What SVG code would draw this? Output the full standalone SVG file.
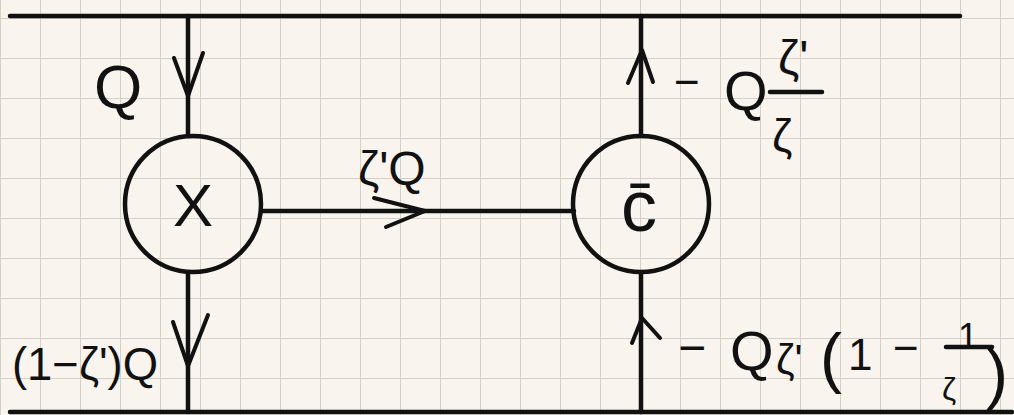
<svg xmlns="http://www.w3.org/2000/svg" width="1014" height="415" viewBox="0 0 1014 415">
<style>
.ln{stroke:#111;stroke-width:4.5;fill:none;stroke-linecap:round;stroke-linejoin:round}
.ah{stroke:#111;stroke-width:4;fill:none;stroke-linecap:round;stroke-linejoin:round}
.nd{stroke:#111;stroke-width:4.5;fill:none}
.t{font-family:"Liberation Sans","DejaVu Sans",sans-serif;fill:#111}
</style>
<defs>
<pattern id="grid" patternUnits="userSpaceOnUse" x="0" y="18" width="40" height="40">
<path d="M0 0H40M0 0V40" stroke="#d6cfc6" stroke-width="2" fill="none"/>
</pattern>
</defs>
<rect width="1014" height="415" fill="#f9f4ee"/>
<rect width="1014" height="415" fill="url(#grid)"/>
<g id="connectors">
<line class="ln" x1="10" y1="16" x2="960" y2="16"/>
<line class="ln" x1="10" y1="412" x2="1012" y2="412"/>
<line class="ln" x1="188" y1="16" x2="188" y2="136"/>
<line class="ln" x1="188" y1="272" x2="188" y2="412"/>
<line class="ln" x1="641" y1="16" x2="641" y2="136"/>
<line class="ln" x1="641" y1="272" x2="641" y2="412"/>
<line class="ln" x1="262" y1="211" x2="574" y2="211"/>
<polyline class="ah" points="174,58 188,96 203,53"/>
<polyline class="ah" points="173,322 188,366 208,315"/>
<polyline class="ah" points="628,83 642,50 653,82"/>
<polyline class="ah" points="632,343 642,318 660,338"/>
<polyline class="ah" points="374,198 425,211 386,227"/>
</g>
<g id="node-x">
<circle class="nd" cx="193" cy="204" r="68"/>
<text class="t" x="193" y="226" font-size="60" text-anchor="middle">X</text>
</g>
<g id="node-c">
<circle class="nd" cx="641" cy="204" r="68"/>
<text class="t" x="639" y="231" font-size="72" text-anchor="middle">c̄</text>
</g>
<g id="labels">
<text class="t" x="94" y="108" font-size="62">Q</text>
<text class="t" x="358" y="185" font-size="48">ζ'Q</text>
<text class="t" font-size="56"><tspan x="674" y="97" font-size="44">−</tspan><tspan x="724" y="110">Q</tspan><tspan x="778" y="74" font-size="48">ζ'</tspan><tspan x="772" y="152" font-size="46">ζ</tspan></text>
<line class="ln" x1="770" y1="92" x2="822" y2="92"/>
<text class="t" x="12" y="380" font-size="46" textLength="146" lengthAdjust="spacingAndGlyphs">(1−ζ')Q</text>
<text class="t" font-size="56"><tspan x="678" y="364" font-size="48">−</tspan><tspan x="730" y="370">Q</tspan><tspan x="776" y="374" font-size="42">ζ'</tspan><tspan x="820" y="380" font-size="66">(</tspan><tspan x="848" y="370" font-size="44">1</tspan><tspan x="893" y="363" font-size="44">−</tspan><tspan x="958" y="349" font-size="36">1</tspan><tspan x="942" y="400" font-size="32">ζ</tspan><tspan x="986" y="396" font-size="66">)</tspan></text>
<line class="ln" x1="946" y1="347" x2="992" y2="347"/>
</g>
</svg>
